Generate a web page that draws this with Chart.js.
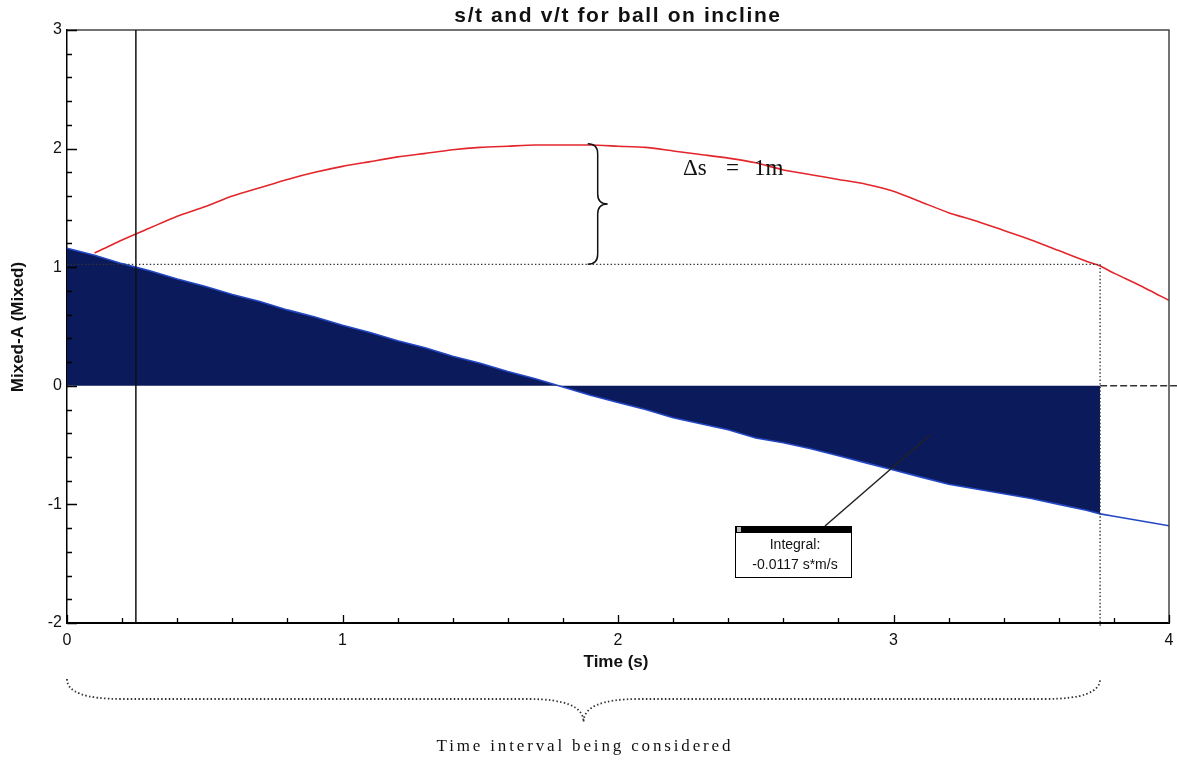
<!DOCTYPE html>
<html>
<head>
<meta charset="utf-8">
<script src="https://cdn.jsdelivr.net/npm/chart.js@4.4.1/dist/chart.umd.min.js"></script>
<style>
  html, body { margin: 0; padding: 0; background: #ffffff; }
  #wrap { width: 1177px; height: 760px; }
</style>
</head>
<body>
<div id="wrap"><canvas id="c" width="1177" height="760"></canvas></div>
<script>
// ---- data ----
const chartTitle = "s/t and v/t for ball on incline";
const xAxisTitle = "Time (s)";
const yAxisTitle = "Mixed-A (Mixed)";
const times = [0,0.1,0.2,0.3,0.4,0.5,0.6,0.7,0.8,0.9,1.0,1.1,1.2,1.3,1.4,1.5,1.6,1.7,1.8,1.9,2.0,
               2.1,2.2,2.3,2.4,2.5,2.6,2.7,2.8,2.9,3.0,3.1,3.2,3.3,3.4,3.5,3.6,3.7,3.75,3.8,3.9,4.0];
// s/t (position, red)
const sValues = [null,1.12,1.23,1.33,1.43,1.51,1.60,1.67,1.74,1.80,1.85,1.89,1.93,1.96,1.99,2.01,2.02,2.03,2.03,2.03,2.02,
                 2.01,1.98,1.95,1.92,1.88,1.82,1.78,1.74,1.70,1.64,1.55,1.46,1.39,1.31,1.23,1.14,1.05,1.01,0.95,0.84,0.72];
// v/t (velocity, blue)
const vValues = [1.16,1.10,1.03,0.97,0.90,0.84,0.77,0.71,0.64,0.58,0.51,0.45,0.38,0.32,0.25,0.19,0.12,0.06,-0.01,-0.08,-0.14,
                 -0.20,-0.27,-0.32,-0.37,-0.44,-0.48,-0.53,-0.59,-0.65,-0.71,-0.77,-0.83,-0.87,-0.91,-0.95,-1.00,-1.05,-1.08,-1.10,-1.14,-1.18];
const xTickLabels = ["0","1","2","3","4"];
const yTickLabels = ["-2","-1","0","1","2","3"];
const cursorTime = 0.25;
const intervalStart = 0;
const intervalEnd = 3.75;
const sPeak = 2.04;
const sLevel = 1.024;
const deltaSLabel = ["\u0394s", "=", "1m"];
const integralLabel = ["Integral:", "-0.0117 s*m/s"];
const intervalLabel = "Time interval being considered";

// ---- build datasets ----
const sPoints = times.map((t, i) => ({ x: t, y: sValues[i] }));
const vPoints = times.map((t, i) => ({ x: t, y: vValues[i] }));
const fillPoints = vPoints.filter(p => p.x >= intervalStart && p.x <= intervalEnd);

function isInt(v) { return Math.abs(v - Math.round(v)) < 1e-6; }

const annot = {
  id: 'annot',
  afterDraw(chart) {
    const ctx = chart.ctx;
    const xs = chart.scales.x, ys = chart.scales.y;
    const ca = chart.chartArea;
    ctx.save();

    // frame top and right
    ctx.strokeStyle = '#444';
    ctx.lineWidth = 1.5;
    ctx.beginPath();
    ctx.moveTo(ca.left, ca.top); ctx.lineTo(ca.right, ca.top); ctx.lineTo(ca.right, ca.bottom);
    ctx.stroke();

    // inward ticks
    ctx.strokeStyle = '#000';
    ctx.lineWidth = 1.3;
    ctx.beginPath();
    xs.ticks.forEach(t => {
      const px = Math.round(xs.getPixelForValue(t.value)) + 0.5;
      const len = isInt(t.value) ? 8 : 5;
      ctx.moveTo(px, ca.bottom); ctx.lineTo(px, ca.bottom - len);
    });
    ys.ticks.forEach(t => {
      const py = Math.round(ys.getPixelForValue(t.value)) + 0.5;
      const len = isInt(t.value) ? 10 : 5;
      ctx.moveTo(ca.left, py); ctx.lineTo(ca.left + len, py);
    });
    ctx.stroke();

    // cursor line
    const cx = xs.getPixelForValue(cursorTime);
    ctx.strokeStyle = '#111';
    ctx.lineWidth = 1.5;
    ctx.beginPath(); ctx.moveTo(cx, ca.top); ctx.lineTo(cx, ca.bottom); ctx.stroke();

    // dotted lines
    const ex = xs.getPixelForValue(intervalEnd);
    const ly = ys.getPixelForValue(sLevel);
    ctx.strokeStyle = '#333';
    ctx.lineWidth = 1.4;
    ctx.setLineDash([1.4, 2.2]);
    ctx.beginPath();
    ctx.moveTo(ca.left, ly); ctx.lineTo(ex, ly);
    ctx.moveTo(ex, ly); ctx.lineTo(ex, ca.bottom + 3);
    ctx.stroke();

    // dashed zero extension
    const zy = ys.getPixelForValue(0);
    ctx.setLineDash([7, 3]);
    ctx.strokeStyle = '#333';
    ctx.beginPath(); ctx.moveTo(ex, zy); ctx.lineTo(chart.width, zy); ctx.stroke();
    ctx.setLineDash([]);

    // vertical brace (delta s)
    const bx = xs.getPixelForValue(1.89);
    const by1 = ys.getPixelForValue(sPeak), by2 = ly;
    const w = 20, r = 10, mid = (by1 + by2) / 2;
    ctx.strokeStyle = '#111';
    ctx.lineWidth = 1.5;
    ctx.beginPath();
    ctx.moveTo(bx, by1);
    ctx.quadraticCurveTo(bx + r, by1, bx + r, by1 + r);
    ctx.lineTo(bx + r, mid - r);
    ctx.quadraticCurveTo(bx + r, mid, bx + w, mid);
    ctx.quadraticCurveTo(bx + r, mid, bx + r, mid + r);
    ctx.lineTo(bx + r, by2 - r);
    ctx.quadraticCurveTo(bx + r, by2, bx, by2);
    ctx.stroke();

    // delta s label
    ctx.fillStyle = '#111';
    ctx.font = '23px "Liberation Serif", serif';
    ctx.textBaseline = 'alphabetic';
    ctx.textAlign = 'left';
    ctx.fillText(deltaSLabel[0], 683, 175);
    ctx.fillText(deltaSLabel[1], 726, 175);
    ctx.fillText(deltaSLabel[2], 754, 175);

    // horizontal dotted brace under the axis
    const x1 = xs.getPixelForValue(intervalStart), x2 = ex;
    const hm = (x1 + x2) / 2;
    const yTop = 679, ySp = 699, yTip = 722, rr = 55;
    ctx.strokeStyle = '#333';
    ctx.lineWidth = 1.8;
    ctx.setLineDash([1.5, 2.3]);
    ctx.beginPath();
    ctx.moveTo(x1, yTop);
    ctx.quadraticCurveTo(x1, ySp, x1 + rr, ySp);
    ctx.lineTo(hm - rr, ySp);
    ctx.quadraticCurveTo(hm, ySp, hm, yTip);
    ctx.quadraticCurveTo(hm, ySp, hm + rr, ySp);
    ctx.lineTo(x2 - rr, ySp);
    ctx.quadraticCurveTo(x2, ySp, x2, yTop);
    ctx.stroke();
    ctx.setLineDash([]);

    // interval label
    ctx.font = '17px "Liberation Serif", serif';
    ctx.letterSpacing = '0px';
    const baseW = ctx.measureText(intervalLabel).width;
    const ls = Math.max(0, (297 - baseW) / intervalLabel.length);
    ctx.letterSpacing = ls.toFixed(2) + 'px';
    ctx.textAlign = 'left';
    ctx.textBaseline = 'middle';
    ctx.fillStyle = '#111';
    ctx.fillText(intervalLabel, hm - 297 / 2 + ls / 2, 747);
    ctx.letterSpacing = '0px';

    // integral box with leader line
    const boxL = 735, boxT = 526, boxW = 116, boxH = 51;
    ctx.strokeStyle = '#222';
    ctx.lineWidth = 1.5;
    ctx.beginPath(); ctx.moveTo(825, boxT); ctx.lineTo(930, 435); ctx.stroke();
    ctx.fillStyle = '#fff';
    ctx.fillRect(boxL, boxT, boxW, boxH);
    ctx.strokeStyle = '#000';
    ctx.lineWidth = 1;
    ctx.strokeRect(boxL + 0.5, boxT + 0.5, boxW, boxH);
    ctx.fillStyle = '#000';
    ctx.fillRect(boxL, boxT, boxW + 1, 7);
    ctx.fillStyle = '#bbb';
    ctx.fillRect(boxL + 2, boxT + 1, 4, 5);
    ctx.fillStyle = '#111';
    ctx.font = '14px "Liberation Sans", Arial, sans-serif';
    ctx.textAlign = 'center';
    ctx.textBaseline = 'middle';
    ctx.fillText(integralLabel[0], boxL + boxW / 2 + 2, 545);
    ctx.fillText(integralLabel[1], boxL + boxW / 2 + 2, 565);

    // title
    ctx.font = 'bold 21px "Liberation Sans", Arial, sans-serif';
    ctx.letterSpacing = '1.6px';
    ctx.fillStyle = '#111';
    ctx.textAlign = 'center';
    ctx.textBaseline = 'middle';
    ctx.fillText(chartTitle, (ca.left + ca.right) / 2, 16);
    ctx.letterSpacing = '0px';

    // axis titles
    ctx.font = 'bold 17px "Liberation Sans Narrow", "Liberation Sans", Arial, sans-serif';
    ctx.fillText(xAxisTitle, (ca.left + ca.right) / 2 - 2, 662);
    ctx.save();
    ctx.translate(18, 327);
    ctx.rotate(-Math.PI / 2);
    ctx.fillText(yAxisTitle, 0, 0);
    ctx.restore();

    ctx.restore();
  }
};

new Chart(document.getElementById('c'), {
  type: 'line',
  data: {
    datasets: [
      { label: 's/t', data: sPoints, borderColor: '#e3262b', borderWidth: 1.6, pointRadius: 0, fill: false, tension: 0.2, order: 1, spanGaps: false },
      { label: 'v/t', data: vPoints, borderColor: '#2448c4', borderWidth: 1.6, pointRadius: 0, fill: false, tension: 0, order: 2 },
      { label: 'integral', data: fillPoints, borderColor: '#0b1a5a', borderWidth: 0, backgroundColor: '#0b1a5a', pointRadius: 0, fill: 'origin', tension: 0, order: 3 }
    ]
  },
  options: {
    responsive: false,
    devicePixelRatio: 1,
    animation: false,
    layout: { padding: { left: 0, right: 8, top: 30, bottom: 0 } },
    plugins: { legend: { display: false }, tooltip: { enabled: false }, title: { display: false } },
    scales: {
      x: {
        type: 'linear', min: 0, max: 4,
        afterFit(s) { s.height = 137; s.paddingLeft = 0; s.paddingRight = 0; },
        grid: { display: true, drawOnChartArea: false, drawTicks: false },
        border: { display: true, color: '#000', width: 2 },
        ticks: {
          stepSize: 0.2, autoSkip: false, maxRotation: 0, padding: 8, color: '#111',
          font: { family: '"Liberation Sans", Arial, sans-serif', size: 16 },
          callback: (v) => isInt(v) ? xTickLabels[Math.round(v)] : ''
        }
      },
      y: {
        type: 'linear', min: -2, max: 3,
        afterFit(s) { s.width = 67; s.paddingTop = 0; s.paddingBottom = 0; },
        grid: { display: true, drawOnChartArea: false, drawTicks: false },
        border: { display: true, color: '#000', width: 1.5 },
        ticks: {
          stepSize: 0.2, autoSkip: false, padding: 5, color: '#111',
          font: { family: '"Liberation Sans", Arial, sans-serif', size: 16 },
          callback: (v) => isInt(v) ? yTickLabels[Math.round(v) + 2] : ''
        }
      }
    }
  },
  plugins: [annot]
});
</script>
</body>
</html>
